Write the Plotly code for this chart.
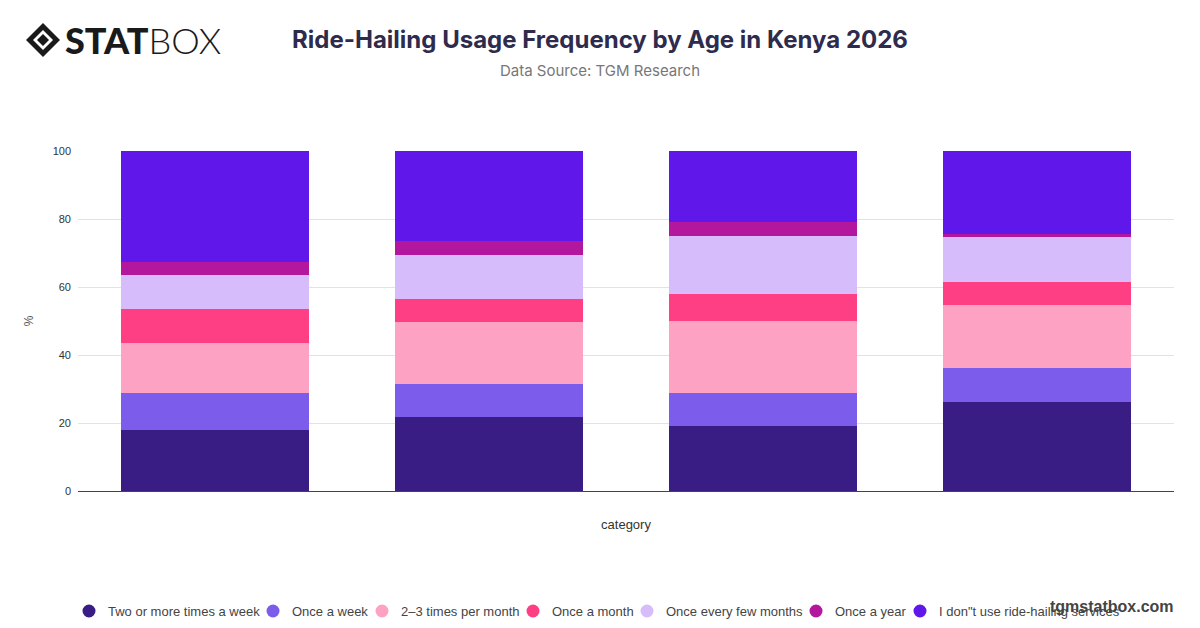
import plotly.graph_objects as go

# age groups (tick labels are hidden on the original chart)
categories = ["18-24", "25-34", "35-44", "45+"]

series_names = [
    "Two or more times a week",
    "Once a week",
    "2\u20133 times per month",
    "Once a month",
    "Once every few months",
    "Once a year",
    "I don\"t use ride-hailing services",
]

two_or_more = [17.8, 21.8, 19.0, 26.2]
once_week = [10.9, 9.8, 9.9, 10.0]
two_three_month = [14.9, 18.0, 21.1, 18.4]
once_month = [9.9, 6.8, 8.0, 6.9]
few_months = [9.9, 12.9, 17.0, 13.3]
once_year = [4.0, 4.1, 4.2, 0.9]
no_use = [32.6, 26.6, 20.8, 24.3]

series_values = [two_or_more, once_week, two_three_month, once_month,
                 few_months, once_year, no_use]

colors = ["#391d85", "#7c5cea", "#fda2c3", "#fe3f84",
          "#d6bcfa", "#b3179e", "#5f18e9"]

# legend entry positions (px)
legend_x = [89, 273, 382, 533, 647, 816, 920]

# plot area in pixels
L, R, T, B = 78, 26, 151, 137
PH = 628 - T - B
PW = 1200 - L - R


def py(pix):
	# page pixel row -> paper y
	return (628 - B - pix) / float(PH)


def px_(pix):
	return (pix - L) / float(PW)


fig = go.Figure()

for name, vals, col in zip(series_names, series_values, colors):
	fig.add_trace(go.Bar(x=categories, y=vals, name=name, marker_color=col,
	                     marker_line_width=0))

fig.update_layout(
	barmode="stack",
	bargap=0.314,
	showlegend=False,
	width=1200, height=628,
	paper_bgcolor="white", plot_bgcolor="white",
	margin=dict(l=L, r=R, t=T, b=B, autoexpand=False),
	font=dict(family="Liberation Sans, Arial, sans-serif", color="#444444"),
	title=dict(text="<b>Ride-Hailing Usage Frequency by Age in Kenya 2026</b>",
	           x=0.5, xanchor="center", y=1 - 40 / 628.0, yanchor="middle",
	           font=dict(size=24, color="#2e2b4d", family="Inter, sans-serif")),
)

fig.update_xaxes(showticklabels=False, ticks="", showgrid=False, automargin=False,
                 title=dict(text="category", font=dict(size=13, color="#333333"), standoff=28),
                 showline=True, linecolor="#444444", linewidth=1)
fig.update_yaxes(range=[0, 100], dtick=20, showgrid=True, gridcolor="#e2e2e2",
                 zeroline=False, automargin=False, ticklabelstandoff=6,
                 tickfont=dict(size=11, color="#333333"),
                 title=dict(text="%", font=dict(size=12, color="#555555"), standoff=16))

fig.add_annotation(text="Data Source: TGM Research", xref="paper", yref="paper",
                   x=px_(600), y=py(71), showarrow=False, xanchor="center",
                   yanchor="middle", font=dict(size=15, color="#777777", family="Inter, sans-serif"))

# legend: round markers + labels in one row
for name, col, lx in zip(series_names, colors, legend_x):
	fig.add_shape(type="circle", xref="paper", yref="paper",
	              x0=px_(lx - 6.5), x1=px_(lx + 6.5), y0=py(611 - 6.5), y1=py(611 + 6.5),
	              fillcolor=col, line_width=0)
	fig.add_annotation(text=name, xref="paper", yref="paper", x=px_(lx + 17), y=py(611),
	                   xanchor="left", yanchor="middle", showarrow=False,
	                   font=dict(size=13, color="#444444"))

# logo
fig.add_annotation(text="<span style='font-weight:900'>STAT</span><span style='font-weight:300'>BOX</span>",
                   xref="paper", yref="paper",
                   x=px_(63), y=py(40), showarrow=False,
                   xanchor="left", yanchor="middle",
                   font=dict(size=36, color="#1a1a1a", family="Lato, sans-serif"))
fig.add_shape(type="path", xref="paper", yref="paper",
              path="M {0} {1} L {2} {3} L {4} {1} L {2} {5} Z".format(
                  px_(26), py(40), px_(43), py(23), px_(60), py(57)),
              fillcolor="#1a1a1a", line_width=0)
fig.add_shape(type="path", xref="paper", yref="paper",
              path="M {0} {1} L {2} {3} L {4} {1} L {2} {5} Z".format(
                  px_(33), py(40), px_(43), py(30), px_(53), py(50)),
              fillcolor="white", line_width=0)
fig.add_shape(type="path", xref="paper", yref="paper",
              path="M {0} {1} L {2} {3} L {4} {1} L {2} {5} Z".format(
                  px_(37), py(40), px_(43), py(34), px_(49), py(46)),
              fillcolor="#1a1a1a", line_width=0)

# watermark
fig.add_annotation(text="<b>tgmstatbox.com</b>", xref="paper", yref="paper",
                   x=px_(1176), y=py(606), showarrow=False,
                   xanchor="right", yanchor="middle",
                   font=dict(size=16, color="#444444"))

fig.write_html("out.html", config={"displayModeBar": False},
               post_script="document.body.style.margin='0';")
